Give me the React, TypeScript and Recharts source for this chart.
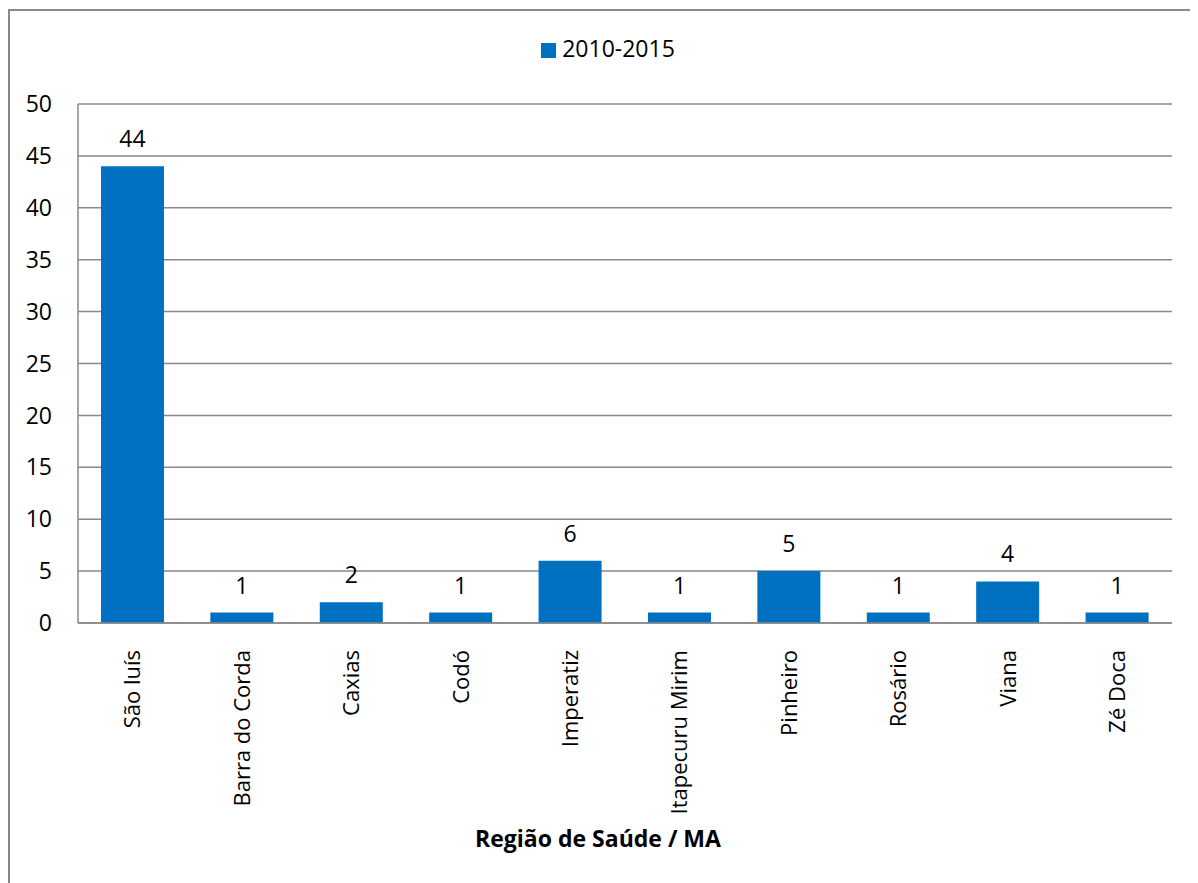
import React from "react";
import {
  BarChart,
  Bar,
  XAxis,
  YAxis,
  CartesianGrid,
  Legend,
  LabelList,
  Label,
} from "recharts";

const regions = [
  "São luís",
  "Barra do Corda",
  "Caxias",
  "Codó",
  "Imperatiz",
  "Itapecuru Mirim",
  "Pinheiro",
  "Rosário",
  "Viana",
  "Zé Doca",
];
const casos = [44, 1, 2, 1, 6, 1, 5, 1, 4, 1];
const yTicks = [0, 5, 10, 15, 20, 25, 30, 35, 40, 45, 50];
const seriesName = "2010-2015";

const data = regions.map((regiao, i) => ({ regiao, casos: casos[i] }));

const FONT = "'Open Sans', sans-serif";
const GRAY = "#898989";

function RegionTick(props: any) {
  const { x, y, payload } = props;
  return (
    <g transform={`translate(${x},${y + 19})`}>
      <text
        transform="rotate(-90)"
        textAnchor="end"
        dy="0.35em"
        fill="#000"
        fontSize={22}
        fontFamily={FONT}
      >
        {payload.value}
      </text>
    </g>
  );
}

export default function App() {
  return (
    <div
      style={{
        position: "relative",
        width: 1190,
        height: 875,
        overflow: "hidden",
        background: "#fff",
      }}
    >
      <div
        style={{
          position: "absolute",
          left: 0,
          top: 1,
          width: 1300,
          height: 1000,
          border: `2px solid ${GRAY}`,
        }}
      />
      <div style={{ position: "absolute", left: 0, top: 0 }}>
        <BarChart
          width={1190}
          height={875}
          data={data}
          margin={{ top: 96, right: 26, bottom: 0, left: 0 }}
          barCategoryGap="21%"
          style={{ fontFamily: FONT }}
        >
          <CartesianGrid vertical={false} stroke={GRAY} strokeWidth={1.5} />
          <XAxis
            dataKey="regiao"
            interval={0}
            height={260}
            stroke={GRAY}
            strokeWidth={1.5}
            tickLine={false}
            tick={<RegionTick />}
          >
            {/* title sits centred on the whole chart, not the plot area */}
            <Label
              value="Região de Saúde / MA"
              position="insideBottom"
              offset={36}
              dx={-27}
              fill="#000"
              fontSize={23}
              fontWeight="bold"
              fontFamily={FONT}
            />
          </XAxis>
          <YAxis
            width={70}
            domain={[0, 50]}
            ticks={yTicks}
            interval={0}
            stroke={GRAY}
            strokeWidth={1.5}
            tickLine={false}
            tickSize={0}
            tickMargin={26}
            tick={{ fill: "#000", fontSize: 23, fontFamily: FONT }}
          />
          <Legend
            verticalAlign="middle"
            align="center"
            iconType="square"
            iconSize={15}
            wrapperStyle={{
              top: 24,
              left: 0,
              width: 1210,
              fontSize: 23,
              fontFamily: FONT,
            }}
            formatter={(value) => (
              <span style={{ color: "#000", marginLeft: 2 }}>{value}</span>
            )}
          />
          <Bar
            dataKey="casos"
            name={seriesName}
            fill="#0070C0"
            isAnimationActive={false}
          >
            <LabelList
              dataKey="casos"
              position="top"
              offset={19}
              fill="#000"
              fontSize={23}
              fontFamily={FONT}
            />
          </Bar>
        </BarChart>
      </div>
    </div>
  );
}
